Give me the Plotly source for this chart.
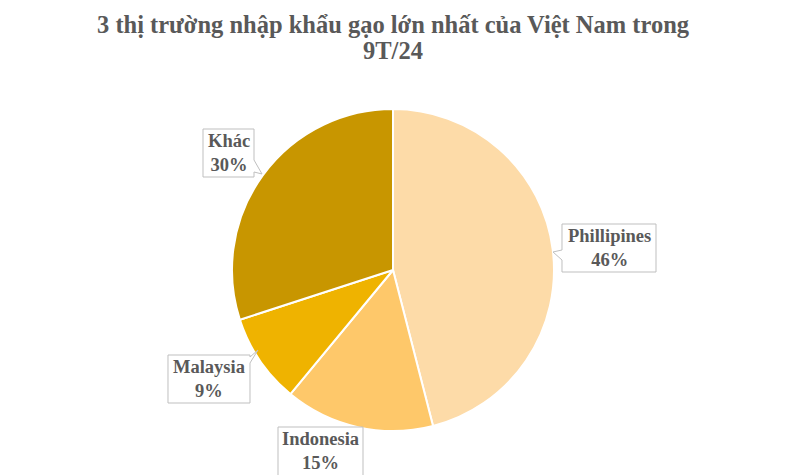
import plotly.graph_objects as go

# Data
markets = ["Phillipines", "Indonesia", "Malaysia", "Khác"]
shares = [46, 15, 9, 30]
colors = ["#FDDBA8", "#FEC86A", "#EFB300", "#C89600"]

W, H = 785, 475
OFF = 8  # page body margin shifts the figure by 8px
CX, CY, R = 393, 270, 161  # pie centre and radius (screen pixels)

# callout boxes (screen pixels): x0, y0, x1, y1, and pointer (side, base_a, base_b, tip_x, tip_y)
boxes = [(562, 224, 656, 272), (278, 427, 363, 482), (168, 355, 250, 403), (203, 129, 254, 177)]
pointers = [("left", 250, 260, 553, 252), None, ("right", 357, 363, 258, 350), ("right", 160, 172, 262, 174)]


def px(x):
    return (x - OFF) / W


def py(y):
    return 1 - (y - OFF) / H


fig = go.Figure(go.Pie(
    labels=markets,
    values=shares,
    sort=False,
    direction="clockwise",
    rotation=0,
    marker=dict(colors=colors, line=dict(color="white", width=2)),
    textinfo="none",
    hoverinfo="label+percent",
    domain=dict(x=[px(CX - R), px(CX + R)], y=[py(CY + R), py(CY - R)]),
    showlegend=False,
))

total = sum(shares)
shapes, annotations = [], []
for name, v, (x0, y0, x1, y1), ptr in zip(markets, shares, boxes, pointers):
    pts = [(x0, y0), (x1, y0)]
    if ptr and ptr[0] == "right":
        _, a, b, tx, ty = ptr
        pts += [(x1, a), (tx, ty), (x1, b)]
    pts += [(x1, y1), (x0, y1)]
    if ptr and ptr[0] == "left":
        _, a, b, tx, ty = ptr
        pts += [(x0, b), (tx, ty), (x0, a)]
    path = "M " + " L ".join(f"{px(x):.5f},{py(y):.5f}" for x, y in pts) + " Z"
    shapes.append(dict(type="path", path=path, xref="paper", yref="paper",
                       fillcolor="white", line=dict(color="#BFBFBF", width=1), layer="above"))
    # box that runs off the bottom edge keeps its text where the reference shows it
    ty_mid = (y0 + y1) / 2 if y1 <= H else 451
    annotations.append(dict(
        x=px((x0 + x1) / 2), y=py(ty_mid),
        xref="paper", yref="paper", xanchor="center", yanchor="middle",
        text=f"<b>{name}<br>{round(v / total * 100)}%</b>",
        showarrow=False,
        font=dict(family="Liberation Serif", size=18.5, color="#595959"),
    ))

# title as two centred lines
title_lines = ["3 thị trường nhập khẩu gạo lớn nhất của Việt Nam trong", "9T/24"]
for i, line in enumerate(title_lines):
    annotations.append(dict(
        x=px(393), y=py(25 + 25 * i), xref="paper", yref="paper",
        xanchor="center", yanchor="middle", showarrow=False,
        text=f"<b>{line}</b>",
        font=dict(family="Liberation Serif", size=24.5, color="#595959"),
    ))

fig.update_layout(
    width=W, height=H,
    margin=dict(l=0, r=0, t=0, b=0),
    paper_bgcolor="white",
    shapes=shapes,
    annotations=annotations,
)

fig.write_html("out.html")
